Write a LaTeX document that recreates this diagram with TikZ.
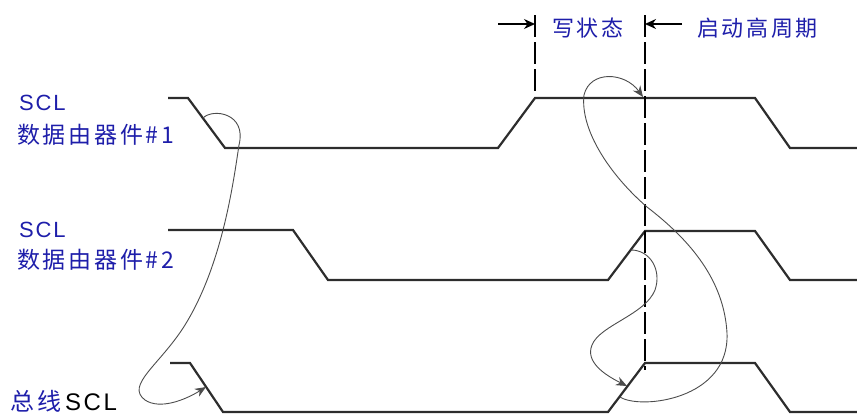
\documentclass[tikz,border=0pt]{standalone}
\usepackage{fontspec}
\setmainfont{Liberation Sans}[LetterSpace=8]
\newfontfamily\cjk{Noto Sans CJK SC}[LetterSpace=12]
\usepackage{xcolor}
\usetikzlibrary{arrows.meta,calc}
\definecolor{lblue}{RGB}{30,30,170}
\definecolor{wavegray}{RGB}{45,45,45}
\tikzstyle{wave} = [line width=2.2pt, draw=wavegray, line join=miter]
\tikzstyle{guide} = [line width=1.4pt, dash pattern=on 22pt off 5pt]
\tikzstyle{loop} = [line width=0.9pt, draw=black!70, -{Stealth[length=11pt,width=9pt]}]
\tikzstyle{arrow} = [line width=1.4pt, -{Stealth[length=11pt,width=10pt]}]
\tikzstyle{lbl} = [text=lblue, font=\fontsize{22}{22}\selectfont, inner sep=0pt, anchor=base west]

\begin{document}
\begin{tikzpicture}[x=1pt,y=-1pt]
  \useasboundingbox (0,0) rectangle (857,415);

  % signal labels
  \node[lbl] (scl1) at (19,110) {SCL};
  \node[lbl, font=\fontsize{23}{23}\selectfont] (dev1) at (17,143) {\cjk 数据由器件\#1};
  \node[lbl] (scl2) at (19,237) {SCL};
  \node[lbl, font=\fontsize{23}{23}\selectfont] (dev2) at (17,268) {\cjk 数据由器件\#2};
  \node[lbl, font=\fontsize{24}{24}\selectfont] (bus) at (10,410) {\cjk 总线\hspace{4pt}\textcolor{black}{\rmfamily\addfontfeatures{LetterSpace=11}SCL}};

  % waveforms
  \draw[wave] (168,98) -- (188,98) -- (225,148) -- (498,148) -- (535,98) -- (755,98) -- (790,148) -- (857,148);
  \draw[wave] (168,230) -- (293,230) -- (328,280) -- (608,280) -- (645,231) -- (755,231) -- (790,280) -- (857,280);
  \draw[wave] (170,363) -- (190,363) -- (223,412) -- (608,412) -- (645,363) -- (755,363) -- (790,412) -- (857,412);

  % timing marks
  \coordinate (w1) at (535,15);
  \coordinate (w2) at (535,92);
  \coordinate (h1) at (645,15);
  \coordinate (h2) at (645,370);
  \draw[guide] (w1) -- (w2);
  \draw[guide] (h1) -- (h2);
  \coordinate (wa) at (498,24);
  \coordinate (ha) at (682,24);
  \draw[arrow] (wa) -- (w1 |- wa);
  \draw[arrow] (ha) -- (h1 |- ha);
  \node[lbl] (write) at (552,36) {\cjk 写状态};
  \node[lbl] (start) at (697,36) {\cjk 启动高周期};

  % points on the edges
  \coordinate (s1) at (203,118);
  \coordinate (b1) at (206,387);
  \coordinate (b2) at (620,397);
  \coordinate (t1) at (643,97);
  \coordinate (s2) at (631,250);
  \coordinate (b3) at (627,386);

  \draw[loop] (s1) .. controls (213,108) and (247,113) .. (239,145) .. controls (233,185) and (222,265) .. (185,325) .. controls (160,365) and (125,385) .. (145,400) .. controls (160,410) and (185,400) .. (b1);
  \draw[loop] (b2) .. controls (640,410) and (730,400) .. (727,333) .. controls (724,280) and (690,240) .. (647,207) .. controls (610,175) and (580,130) .. (584,95) .. controls (590,70) and (625,72) .. (t1);
  \draw[loop] (s2) .. controls (650,250) and (662,270) .. (655,290) .. controls (645,315) and (600,325) .. (592,345) .. controls (585,362) and (605,375) .. (b3);
\end{tikzpicture}
\end{document}
